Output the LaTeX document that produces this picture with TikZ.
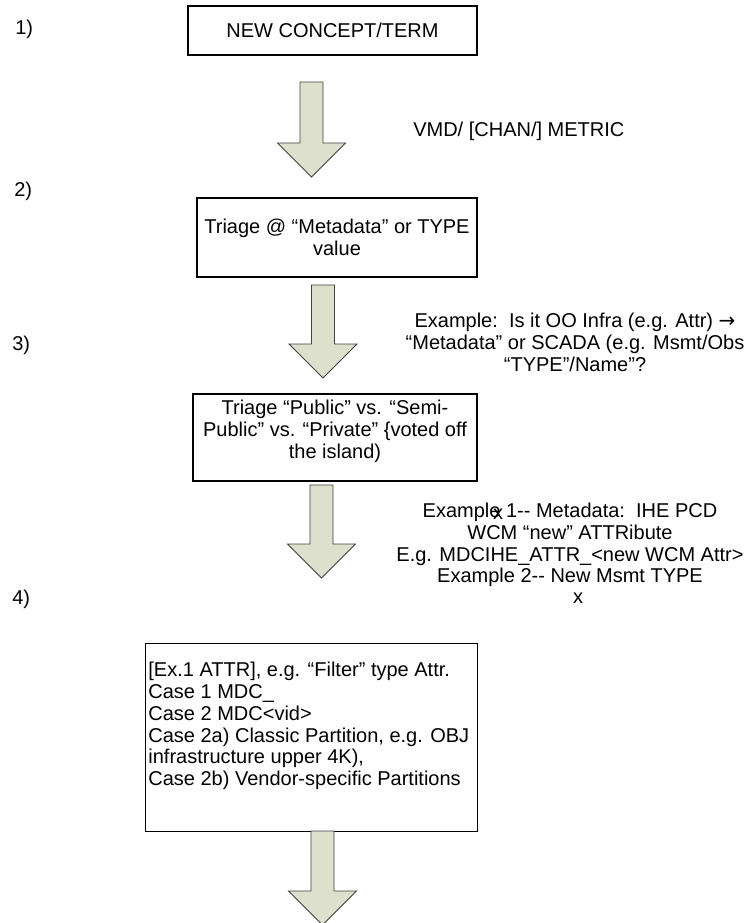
\documentclass[tikz,border=0pt]{standalone}
\usepackage{fontspec}
\setmainfont{Liberation Sans}
\newfontfamily\symfont{DejaVu Sans}
\usetikzlibrary{positioning}

\definecolor{arrowfill}{RGB}{221,224,204}

\tikzset{
	box/.style={draw, line width=1.1pt, inner sep=0pt, align=center},
	note/.style={inner sep=0pt, align=center},
	num/.style={inner sep=0pt, anchor=base west},
	bigarrow/.style={fill=arrowfill, draw=black!75, line width=0.6pt}
}

% block arrow: centre x, top y, tip y
\newcommand{\blockarrow}[3]{%
	\draw[bigarrow] (#1-11.5,#2) -- (#1+11.5,#2) -- (#1+11.5,#3-34) -- (#1+34,#3-34)
		-- (#1,#3) -- (#1-34,#3-34) -- (#1-11.5,#3-34) -- cycle;}

\begin{document}
\begin{tikzpicture}[x=0.75pt, y=-0.75pt, font=\fontsize{15}{16.3}\selectfont]
		\useasboundingbox (0,0) rectangle (747,923);
		% steps
		\node [num] (n1) at (15,35) {1)};
		\node [num] (n2) at (14,197) {2)};
		\node [num] (n3) at (12,350) {3)};
		\node [num] (n4) at (12,604) {4)};
		% boxes
		\node [box,minimum width=216.75pt,minimum height=36.75pt] (term) at (332.5,30.5) {NEW CONCEPT/TERM};
		\node [box,minimum width=210pt,minimum height=59.25pt] (triage) at (337,237.5)
		{Triage @ “Metadata” or TYPE\\ value};
		\node [box,minimum width=213pt,minimum height=65.25pt] (pub) at (335,437.5)
		{Triage “Public” vs. “Semi-\\Public” vs. “Private” \{voted off\\ the island)\\[-4pt]};
		\node [box,anchor=north west,inner xsep=2pt,inner ysep=14pt] (cases) at (145,643)
		{\begin{minipage}[t][113pt][t]{245pt}\raggedright
			[Ex.1 ATTR], e.g. “Filter” type Attr.\\
			Case 1 MDC\_\\
			Case 2 MDC<vid>\\
			Case 2a) Classic Partition, e.g. OBJ\\
			infrastructure upper 4K),\\
			Case 2b) Vendor-specific Partitions
		\end{minipage}};
		% side notes
		\node [num] (vmd) at (413,137) {VMD/ [CHAN/] METRIC};
		\node [note,anchor=north] (ex0) at (575,313)
		{Example:\ \ Is it OO Infra (e.g. Attr) {\symfont →}\\“Metadata” or SCADA (e.g. Msmt/Obs\\“TYPE”/Name”?};
		\node [note,anchor=north] (ex1) at (570,503)
		{Example 1-{}- Metadata:\ \ IHE PCD\\WCM “new” ATTRibute\\E.g. MDCIHE\_ATTR\_<new WCM Attr>\\Example 2-{}- New Msmt TYPE};
		\node [note] (x1) at (498,514) {x};
		\node [note] (x2) at (578,598) {x};
		% arrows
		\blockarrow{311.5}{82}{177}
		\blockarrow{323}{285}{378}
		\blockarrow{321.5}{485}{578}
		\blockarrow{322.5}{831}{925}
\end{tikzpicture}
\end{document}
